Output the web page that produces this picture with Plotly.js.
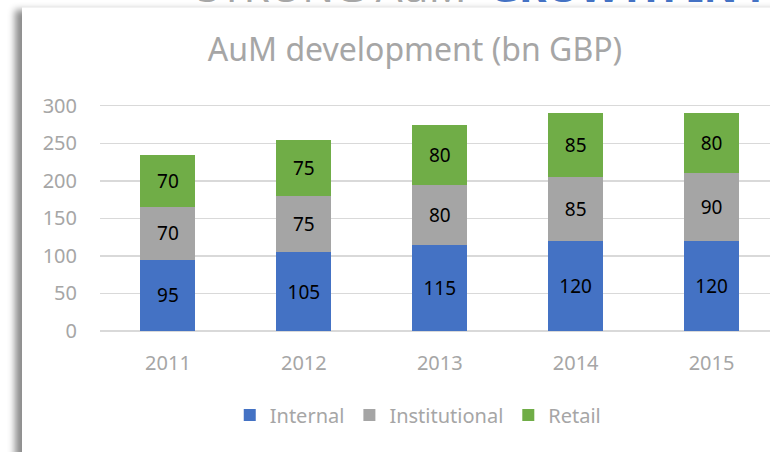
<!DOCTYPE html>
<html>
<head>
<meta charset="utf-8">
<script src="https://cdn.plot.ly/plotly-3.0.1.min.js"></script>
<style>
  html, body { margin: 0; padding: 0; background: #ffffff; overflow: hidden; }
  #wrap { position: relative; width: 770px; height: 452px; overflow: hidden; background: #ffffff; }
  #panel { position: absolute; left: 22px; top: 7px; width: 800px; height: 500px; background: #ffffff;
           border-top: 1px solid #f2f2f2;
           box-shadow: -7px 3px 7px rgba(0,0,0,0.45); }
  #chart { position: absolute; left: 0; top: 0; width: 770px; height: 452px; }
</style>
</head>
<body>
<div id="wrap">
  <div id="panel"></div>
  <div id="chart"></div>
</div>
<script>
const years = ['2011', '2012', '2013', '2014', '2015'];
const internal = [95, 105, 115, 120, 120];
const institutional = [70, 75, 80, 85, 90];
const retail = [70, 75, 80, 85, 80];
const seriesNames = ['Internal', 'Institutional', 'Retail'];
const seriesColors = ['#4472c4', '#a5a5a5', '#70ad47'];
const yTicks = [0, 50, 100, 150, 200, 250, 300];

const FONT = 'Noto Sans, Open Sans, DejaVu Sans, sans-serif';
const seriesValues = [internal, institutional, retail];

const traces = seriesValues.map((vals, i) => ({
  type: 'bar',
  name: seriesNames[i],
  x: years,
  y: vals,
  text: vals.map(String),
  textposition: 'inside',
  insidetextanchor: 'middle',
  constraintext: 'none',
  textangle: 0,
  textfont: { family: FONT, size: 19, color: '#000000' },
  insidetextfont: { family: FONT, size: 19, color: '#000000' },
  marker: { color: seriesColors[i], line: { width: 0 } },
  hoverinfo: 'x+y+name'
}));

const layout = {
  width: 770,
  height: 452,
  margin: { l: 100, r: 0, t: 102, b: 121, pad: 0 },
  paper_bgcolor: 'rgba(0,0,0,0)',
  plot_bgcolor: 'rgba(0,0,0,0)',
  barmode: 'stack',
  bargap: 0.595,
  font: { family: FONT, color: '#a6a6a6' },
  title: {
    text: 'AuM development (bn GBP)',
    font: { family: FONT, size: 32, color: '#a6a6a6' },
    xref: 'container', x: 0.539, xanchor: 'center',
    yref: 'container', y: 0.889, yanchor: 'middle'
  },
  xaxis: {
    type: 'category',
    range: [-0.5, 4.43],
    showgrid: false,
    showline: false,
    zeroline: false,
    ticks: '',
    tickfont: { family: FONT, size: 20, color: '#a6a6a6' },
    ticklabelstandoff: 18,
    fixedrange: true
  },
  yaxis: {
    range: [0, 305],
    tickmode: 'array',
    tickvals: yTicks,
    ticktext: yTicks.map(String),
    showgrid: true,
    gridcolor: '#d9d9d9',
    gridwidth: 1.4,
    zeroline: true,
    zerolinecolor: '#d9d9d9',
    zerolinewidth: 1.6,
    showline: false,
    ticks: '',
    tickfont: { family: FONT, size: 20, color: '#a6a6a6' },
    ticklabelstandoff: 22,
    fixedrange: true
  },
  showlegend: true,
  legend: {
    orientation: 'h',
    x: 0.475, xanchor: 'center',
    y: -0.367, yanchor: 'middle',
    font: { family: FONT, size: 20, color: '#a6a6a6' },
    bgcolor: 'rgba(0,0,0,0)',
    traceorder: 'normal',
    itemclick: false,
    itemdoubleclick: false
  },
  annotations: [{
    xref: 'paper', yref: 'paper',
    x: 0.1418, y: 1.375,
    xanchor: 'left', yanchor: 'bottom',
    showarrow: false,
    align: 'left',
    text: 'STRONG AuM&nbsp; <b><span style="color:#4472c4">GROWTH IN FUNDS</span></b>',
    font: { family: FONT, size: 42, color: '#a6a6a6' }
  }]
};

Plotly.newPlot('chart', traces, layout, { displayModeBar: false, staticPlot: true });
</script>
</body>
</html>
